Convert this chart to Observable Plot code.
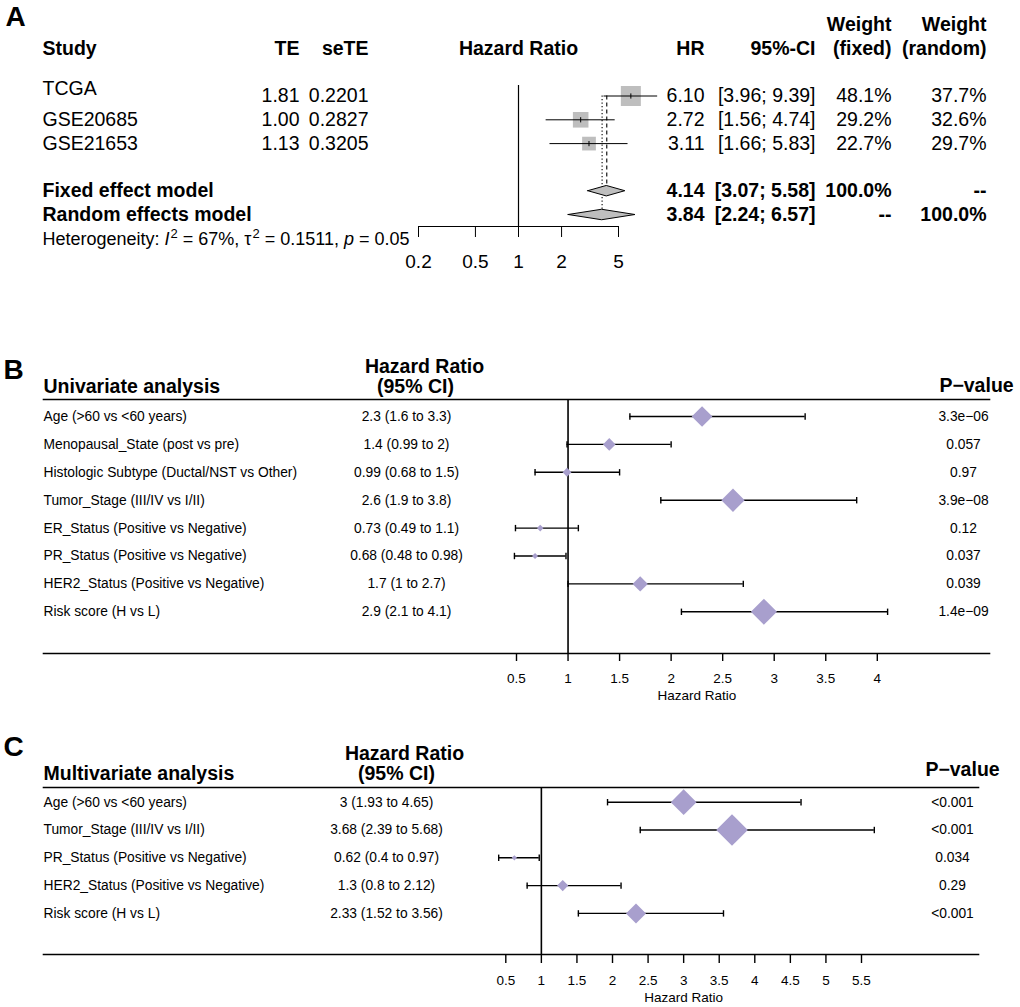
<!DOCTYPE html>
<html><head><meta charset="utf-8">
<script src="https://cdn.jsdelivr.net/npm/d3@7"></script>
<script src="https://cdn.jsdelivr.net/npm/@observablehq/plot@0.6"></script>
<style>
html,body{margin:0;padding:0;background:#fff;}
#fig{position:relative;width:1020px;height:1007px;font-family:"Liberation Sans",Arial,sans-serif;background:#fff;}
#fig > div{position:absolute;left:0;width:1020px;}
</style></head>
<body>
<div id="fig"><div id="pa" style="top:0px"></div><div id="pb" style="top:300px"></div><div id="pc" style="top:715px"></div></div>
<script>
// ---------- Panel A: meta-analysis ----------
const studies = ["TCGA", "GSE20685", "GSE21653"];
const studyTE = ["1.81", "1.00", "1.13"];
const studySeTE = ["0.2201", "0.2827", "0.3205"];
const studyHR = [6.10, 2.72, 3.11];
const studyLower = [3.96, 1.56, 1.66];
const studyUpper = [9.39, 4.74, 5.83];
const studyWeightFixed = [48.1, 29.2, 22.7];
const studyWeightRandom = [37.7, 32.6, 29.7];
const models = ["Fixed effect model", "Random effects model"];
const modelHR = [4.14, 3.84];
const modelLower = [3.07, 2.24];
const modelUpper = [5.58, 6.57];
const modelWeightFixed = ["100.0%", "--"];
const modelWeightRandom = ["--", "100.0%"];
const hetI2 = "67%";
const hetTau2 = "0.1511";
const hetP = "0.05";
const ticksA = [0.2, 0.5, 1, 2, 5];

// ---------- Panel B: univariate ----------
const uniLabels = ["Age (>60 vs <60 years)", "Menopausal_State (post vs pre)", "Histologic Subtype (Ductal/NST vs Other)", "Tumor_Stage (III/IV vs I/II)", "ER_Status (Positive vs Negative)", "PR_Status (Positive vs Negative)", "HER2_Status (Positive vs Negative)", "Risk score (H vs L)"];
const uniHR = [2.3, 1.4, 0.99, 2.6, 0.73, 0.68, 1.7, 2.9];
const uniLower = [1.6, 0.99, 0.68, 1.9, 0.49, 0.48, 1, 2.1];
const uniUpper = [3.3, 2, 1.5, 3.8, 1.1, 0.98, 2.7, 4.1];
const uniP = ["3.3e\u221206", "0.057", "0.97", "3.9e\u221208", "0.12", "0.037", "0.039", "1.4e\u221209"];
const ticksB = [0.5, 1, 1.5, 2, 2.5, 3, 3.5, 4];

// ---------- Panel C: multivariate ----------
const multiLabels = ["Age (>60 vs <60 years)", "Tumor_Stage (III/IV vs I/II)", "PR_Status (Positive vs Negative)", "HER2_Status (Positive vs Negative)", "Risk score (H vs L)"];
const multiHR = [3, 3.68, 0.62, 1.3, 2.33];
const multiLower = [1.93, 2.39, 0.4, 0.8, 1.52];
const multiUpper = [4.65, 5.68, 0.97, 2.12, 3.56];
const multiP = ["<0.001", "<0.001", "0.034", "0.29", "<0.001"];
const ticksC = [0.5, 1, 1.5, 2, 2.5, 3, 3.5, 4, 4.5, 5, 5.5];

const FONT = '"Liberation Sans", Arial, sans-serif';
const LAV = "#a89fcd";
const GREY = "#bebebe";
const vtick = {draw(ctx, size) { const h = Math.sqrt(size / Math.PI); ctx.moveTo(0, -h); ctx.lineTo(0, h); }};
const baseStyle = (fs) => ({fontFamily: FONT, fontSize: fs + "px", color: "black", background: "white"});

// ===== Panel A =====
const rowsA = studies.map((s, i) => ({i, study: s, te: studyTE[i], se: studySeTE[i], hr: studyHR[i], lo: studyLower[i], hi: studyUpper[i],
  hrText: studyHR[i].toFixed(2), ci: `[${studyLower[i].toFixed(2)}; ${studyUpper[i].toFixed(2)}]`,
  wf: studyWeightFixed[i], wfText: studyWeightFixed[i].toFixed(1) + "%", wrText: studyWeightRandom[i].toFixed(1) + "%"}));
const modelRows = models.map((m, k) => ({i: 4 + k, name: m, hr: modelHR[k], lo: modelLower[k], hi: modelUpper[k],
  hrText: modelHR[k].toFixed(2), ci: `[${modelLower[k].toFixed(2)}; ${modelUpper[k].toFixed(2)}]`,
  wfText: modelWeightFixed[k], wrText: modelWeightRandom[k]}));
const DH = 0.22;
const diamondPts = modelRows.flatMap(d => [
  {m: d.name, x: d.lo, y1: d.i, y2: d.i},
  {m: d.name, x: d.hr, y1: d.i - DH, y2: d.i + DH},
  {m: d.name, x: d.hi, y1: d.i, y2: d.i}
]);
const FA = 19.5;
const colText = (data, opts) => Plot.text(data, {fontSize: FA, ...opts});
const hdr = (txt, row, opts) => Plot.text([txt], {text: d => d, y: () => row, fontSize: FA, fontWeight: "bold", ...opts});

const plotA = Plot.plot({
  width: 1020, height: 290, marginLeft: 418, marginRight: 402, marginTop: 85, marginBottom: 64,
  style: baseStyle(19),
  x: {type: "log", domain: [0.2, 5], axis: null, label: null},
  y: {type: "linear", domain: [0, 1], range: [95.5, 119.3], axis: null, label: null},
  r: {type: "sqrt", domain: [0, d3.max(studyWeightFixed)], range: [0, 20 / Math.sqrt(Math.PI)]},
  marks: [
    Plot.ruleX([1], {stroke: "black", strokeWidth: 1.2}),
    Plot.ruleX([modelHR[0]], {y2: () => 4 - DH, stroke: "black", strokeWidth: 1.1, strokeDasharray: "4,3"}),
    Plot.ruleX([modelHR[1]], {y2: () => 5 - DH, stroke: "black", strokeWidth: 1.1, strokeDasharray: "1.3,2.2"}),
    Plot.dot(rowsA, {x: "hr", y: "i", r: "wf", symbol: "square", fill: GREY, stroke: "none"}),
    Plot.ruleY(rowsA, {y: "i", x1: "lo", x2: "hi", stroke: "black", strokeWidth: 1}),
    Plot.dot(rowsA, {x: "hr", y: "i", r: 2.6, symbol: vtick, fill: "none", stroke: "black", strokeWidth: 1}),
    Plot.areaY(diamondPts, {x: "x", y1: "y1", y2: "y2", z: "m", fill: GREY, stroke: "black", strokeWidth: 1, curve: "linear"}),
    Plot.frame({anchor: "bottom", stroke: "black", strokeWidth: 1}),
    Plot.axisX({ticks: ticksA, tickFormat: d => String(d), tickSize: 11, tickPadding: 17, fontSize: 19, label: null, strokeWidth: 1}),
    // headers
    Plot.text(["A"], {text: d => d, y: () => -3.3, frameAnchor: "left", dx: -413, textAnchor: "start", fontSize: 28, fontWeight: "bold"}),
    hdr("Study", -2, {frameAnchor: "left", dx: -376, textAnchor: "start"}),
    hdr("TE", -2, {frameAnchor: "left", dx: -119, textAnchor: "end"}),
    hdr("seTE", -2, {frameAnchor: "left", dx: -50, textAnchor: "end"}),
    hdr("Hazard Ratio", -2, {frameAnchor: "left", dx: 100, textAnchor: "middle"}),
    hdr("HR", -2, {frameAnchor: "right", dx: 86, textAnchor: "end"}),
    hdr("95%-CI", -2, {frameAnchor: "right", dx: 197, textAnchor: "end"}),
    hdr("Weight", -3, {frameAnchor: "right", dx: 273, textAnchor: "end"}),
    hdr("(fixed)", -2, {frameAnchor: "right", dx: 273, textAnchor: "end"}),
    hdr("Weight", -3, {frameAnchor: "right", dx: 368, textAnchor: "end"}),
    hdr("(random)", -2, {frameAnchor: "right", dx: 368, textAnchor: "end"}),
    // study rows
    colText(rowsA.filter(d => d.i === 0), {y: "i", text: "study", frameAnchor: "left", dx: -376, dy: -7, textAnchor: "start"}),
    colText(rowsA.filter(d => d.i !== 0), {y: "i", text: "study", frameAnchor: "left", dx: -376, textAnchor: "start"}),
    colText(rowsA, {y: "i", text: "te", frameAnchor: "left", dx: -119, textAnchor: "end"}),
    colText(rowsA, {y: "i", text: "se", frameAnchor: "left", dx: -50, textAnchor: "end"}),
    colText(rowsA, {y: "i", text: "hrText", frameAnchor: "right", dx: 86, textAnchor: "end"}),
    colText(rowsA, {y: "i", text: "ci", frameAnchor: "right", dx: 197, textAnchor: "end"}),
    colText(rowsA, {y: "i", text: "wfText", frameAnchor: "right", dx: 273, textAnchor: "end"}),
    colText(rowsA, {y: "i", text: "wrText", frameAnchor: "right", dx: 368, textAnchor: "end"}),
    // model rows
    colText(modelRows, {y: "i", text: "name", frameAnchor: "left", dx: -376, textAnchor: "start", fontWeight: "bold"}),
    colText(modelRows, {y: "i", text: "hrText", frameAnchor: "right", dx: 86, textAnchor: "end", fontWeight: "bold"}),
    colText(modelRows, {y: "i", text: "ci", frameAnchor: "right", dx: 197, textAnchor: "end", fontWeight: "bold"}),
    colText(modelRows, {y: "i", text: "wfText", frameAnchor: "right", dx: 273, textAnchor: "end", fontWeight: "bold"}),
    colText(modelRows, {y: "i", text: "wrText", frameAnchor: "right", dx: 368, textAnchor: "end", fontWeight: "bold"}),
    Plot.text(["Heterogeneity"], {text: d => d, y: () => 6, frameAnchor: "left", dx: -376, textAnchor: "start", fontSize: 18})
  ]
});
// rich text for heterogeneity line
plotA.querySelectorAll("text").forEach(t => {
  if (t.textContent === "Heterogeneity") {
    t.textContent = "";
    const parts = [["Heterogeneity: ", ""], ["I", "it"], ["2", "sup"], [` = ${hetI2}, \u03c4`, ""], ["2", "sup"], [` = ${hetTau2}, `, ""], ["p", "it"], [` = ${hetP}`, ""]];
    let raised = false;
    for (const [s, kind] of parts) {
      const ts = document.createElementNS("http://www.w3.org/2000/svg", "tspan");
      ts.textContent = s;
      if (kind === "it") ts.setAttribute("font-style", "italic");
      if (kind === "sup") { ts.setAttribute("font-size", "13"); ts.setAttribute("dy", "-7"); ts.setAttribute("dx", "1"); raised = true; }
      else if (raised) { ts.setAttribute("dy", "7"); raised = false; }
      t.appendChild(ts);
    }
  }
});
document.getElementById("pa").appendChild(plotA);

// ===== Forest panels B and C =====
function forestPanel(cfg) {
  const rows = cfg.labels.map((l, i) => ({i, label: l, hr: cfg.hr[i], lo: cfg.lo[i], hi: cfg.hi[i], p: cfg.p[i],
    hrText: `${cfg.hr[i]} (${cfg.lo[i]} to ${cfg.hi[i]})`}));
  const FS = 13.8;
  const mid = (cfg.ticks[0] + cfg.ticks[cfg.ticks.length - 1]) / 2;
  return Plot.plot({
    width: 1020, height: cfg.height, marginLeft: 43, marginRight: cfg.marginRight, marginTop: cfg.marginTop, marginBottom: cfg.marginBottom,
    style: baseStyle(13.5),
    x: {type: "linear", domain: [cfg.ticks[0], cfg.ticks[cfg.ticks.length - 1]], range: cfg.xRange, axis: null, label: null},
    y: {type: "linear", domain: [0, rows.length - 1], range: cfg.yRange, axis: null, label: null},
    r: {type: "linear", domain: [0, 1], range: [0, cfg.rk]},
    marks: [
      Plot.frame({anchor: "top", stroke: "black", strokeWidth: 1.6}),
      Plot.frame({anchor: "bottom", stroke: "black", strokeWidth: 1.6}),
      Plot.ruleX([1], {stroke: "black", strokeWidth: 1.6}),
      Plot.ruleY(rows, {y: "i", x1: "lo", x2: "hi", stroke: "black", strokeWidth: 1.4}),
      Plot.dot(rows, {x: "lo", y: "i", r: 3.2, symbol: vtick, fill: "none", stroke: "black", strokeWidth: 1.4}),
      Plot.dot(rows, {x: "hi", y: "i", r: 3.2, symbol: vtick, fill: "none", stroke: "black", strokeWidth: 1.4}),
      Plot.dot(rows, {x: "hr", y: "i", r: "hr", symbol: "diamond2", fill: LAV, stroke: "none"}),
      Plot.axisX({ticks: cfg.ticks, tickFormat: d => String(d), tickSize: cfg.tickSize, tickPadding: cfg.tickPadding, fontSize: 13.5, label: null, strokeWidth: 1.4}),
      Plot.text(["Hazard Ratio"], {text: d => d, x: () => mid, frameAnchor: "bottom", dy: cfg.labelDy, fontSize: 13.5}),
      // table text
      Plot.text(rows, {y: "i", text: "label", frameAnchor: "left", textAnchor: "start", fontSize: FS}),
      Plot.text(rows, {y: "i", text: "hrText", frameAnchor: "left", dx: cfg.hrDx, textAnchor: "middle", fontSize: FS}),
      Plot.text(rows, {y: "i", text: "p", frameAnchor: "right", dx: cfg.pDx, textAnchor: "middle", fontSize: FS}),
      // headers
      Plot.text([cfg.letter], {text: d => d, y: () => cfg.letterRow, frameAnchor: "left", dx: -40, textAnchor: "start", fontSize: 28, fontWeight: "bold"}),
      Plot.text([cfg.title], {text: d => d, y: () => cfg.hdrRow2, frameAnchor: "left", textAnchor: "start", fontSize: 19.5, fontWeight: "bold"}),
      Plot.text(["Hazard Ratio"], {text: d => d, y: () => cfg.hdrRow1, frameAnchor: "left", dx: cfg.hdr1Dx, textAnchor: "middle", fontSize: 19.5, fontWeight: "bold"}),
      Plot.text(["(95% CI)"], {text: d => d, y: () => cfg.hdrRow2, frameAnchor: "left", dx: cfg.hdr2Dx, textAnchor: "middle", fontSize: 19.5, fontWeight: "bold"}),
      Plot.text(["P\u2212value"], {text: d => d, y: () => cfg.pHdrRow, frameAnchor: "right", dx: cfg.pHdrDx, textAnchor: "middle", fontSize: 19.5, fontWeight: "bold"})
    ]
  });
}

document.getElementById("pb").appendChild(forestPanel({
  letter: "B", title: "Univariate analysis", labels: uniLabels, hr: uniHR, lo: uniLower, hi: uniUpper, p: uniP, ticks: ticksB,
  height: 415, marginTop: 99, marginBottom: 62, marginRight: 31,
  xRange: [516, 876.8], yRange: [116, 311.3], rk: 4.05,
  tickSize: 8, tickPadding: 12, labelDy: 46,
  hrDx: 363, pDx: -26, hdr1Dx: 381, hdr2Dx: 372, pHdrDx: -13,
  letterRow: -1.65, hdrRow1: -1.77, hdrRow2: -1.05, pHdrRow: -1.09
}));

document.getElementById("pc").appendChild(forestPanel({
  letter: "C", title: "Multivariate analysis", labels: multiLabels, hr: multiHR, lo: multiLower, hi: multiUpper, p: multiP, ticks: ticksC,
  height: 292, marginTop: 72, marginBottom: 53, marginRight: 42,
  xRange: [505.3, 861], yRange: [86.7, 197.9], rk: 3.87,
  tickSize: 9, tickPadding: 12, labelDy: 47,
  hrDx: 343, pDx: -26, hdr1Dx: 361, hdr2Dx: 353, pHdrDx: -16,
  letterRow: -1.98, hdrRow1: -1.76, hdrRow2: -1.04, pHdrRow: -1.17
}));
</script>
</body></html>
